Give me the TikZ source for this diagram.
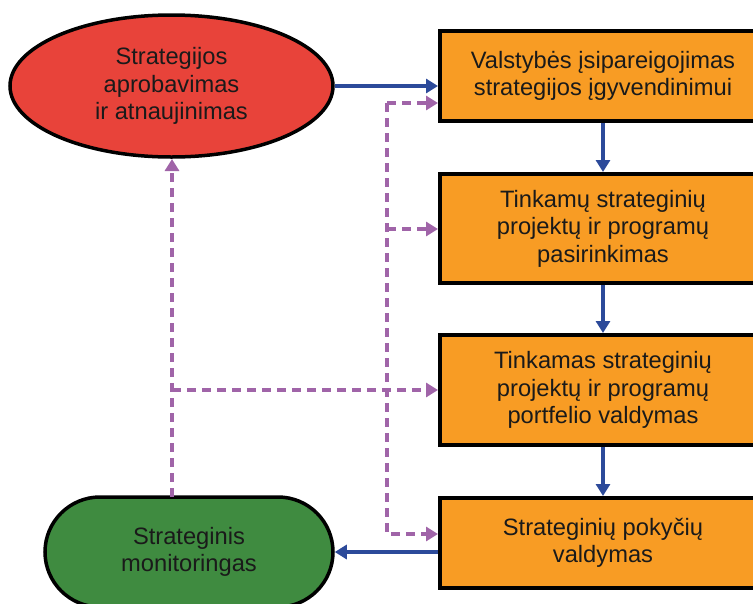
\documentclass[tikz,border=0pt]{standalone}
\usepackage{fontspec}
\setmainfont{Liberation Sans}
\usetikzlibrary{arrows.meta,shapes.geometric,shapes.misc}
\definecolor{redfill}{HTML}{E8433A}
\definecolor{orangefill}{HTML}{F89C24}
\definecolor{greenfill}{HTML}{3F8B40}
\definecolor{flowblue}{HTML}{2C4A9A}
\definecolor{fbpurple}{HTML}{A064A8}
\definecolor{txt}{HTML}{1A1A1A}
\tikzset{
  label font/.style={font=\fontsize{23.7}{27.5}\selectfont, text=txt, align=center},
  flowbox/.style={label font, draw=black, line width=4pt, fill=orangefill,
    minimum width=326pt, inner sep=0pt},
  startnode/.style={label font, ellipse, draw=black, line width=3.5pt, fill=redfill,
    minimum width=323pt, minimum height=142pt, inner sep=0pt},
  endnode/.style={label font, rounded rectangle, draw=black, line width=3.5pt, fill=greenfill,
    minimum width=288pt, minimum height=110pt, inner sep=0pt},
  blueflow/.style={draw=flowblue, line width=3.5pt, -{Triangle[length=12pt,width=14pt]}},
  feedback/.style={draw=fbpurple, line width=3.5pt, dash pattern=on 9pt off 6pt,
    -{Triangle[length=12pt,width=14pt]}},
}
\begin{document}
\begin{tikzpicture}[x=1pt,y=-1pt]
\useasboundingbox (0,0) rectangle (753,603);
\clip (0,0) rectangle (753,603);

% main nodes
\node[startnode] (approve) at (171.5,86) {Strategijos\\aprobavimas\\ir atnaujinimas};
\node[flowbox, minimum height=90pt] (commit) at (603,76) {Valstybės įsipareigojimas\\strategijos įgyvendinimui};
\node[flowbox, minimum height=109pt] (select) at (603,228.5) {Tinkamų strateginių\\projektų ir programų\\pasirinkimas};
\node[flowbox, minimum height=110pt] (portfolio) at (603,390) {Tinkamas strateginių\\projektų ir programų\\portfelio valdymas};
\node[flowbox, minimum height=90pt] (change) at (603,543) {Strateginių pokyčių\\valdymas};
\node[endnode] (monitor) at (189,552) {Strateginis\\monitoringas};

% main flow
\draw[blueflow] (approve.east) -- (approve.east -| commit.west);
\draw[blueflow] (commit.south) -- (select.north);
\draw[blueflow] (select.south) -- (portfolio.north);
\draw[blueflow] (portfolio.south) -- (change.north);
\draw[blueflow] (change.west |- monitor.east) -- (monitor.east);

% feedback bus
\coordinate (bustop) at (387,103);
\coordinate (busmid) at (387,229);
\coordinate (busbot) at (387,534);
\draw[feedback] (bustop) -- (bustop -| commit.west);
\draw[feedback] (busmid) -- (busmid -| select.west);
\draw[feedback] (bustop) -- (busbot) -- (busbot -| change.west);

% monitoring feedback
\coordinate (monup) at (172,497);
\coordinate (apprin) at (172,159);
\coordinate (branch) at (172,390);
\draw[feedback] (monup) -- (apprin);
\draw[feedback] (branch) -- (branch -| portfolio.west);
\end{tikzpicture}
\end{document}
